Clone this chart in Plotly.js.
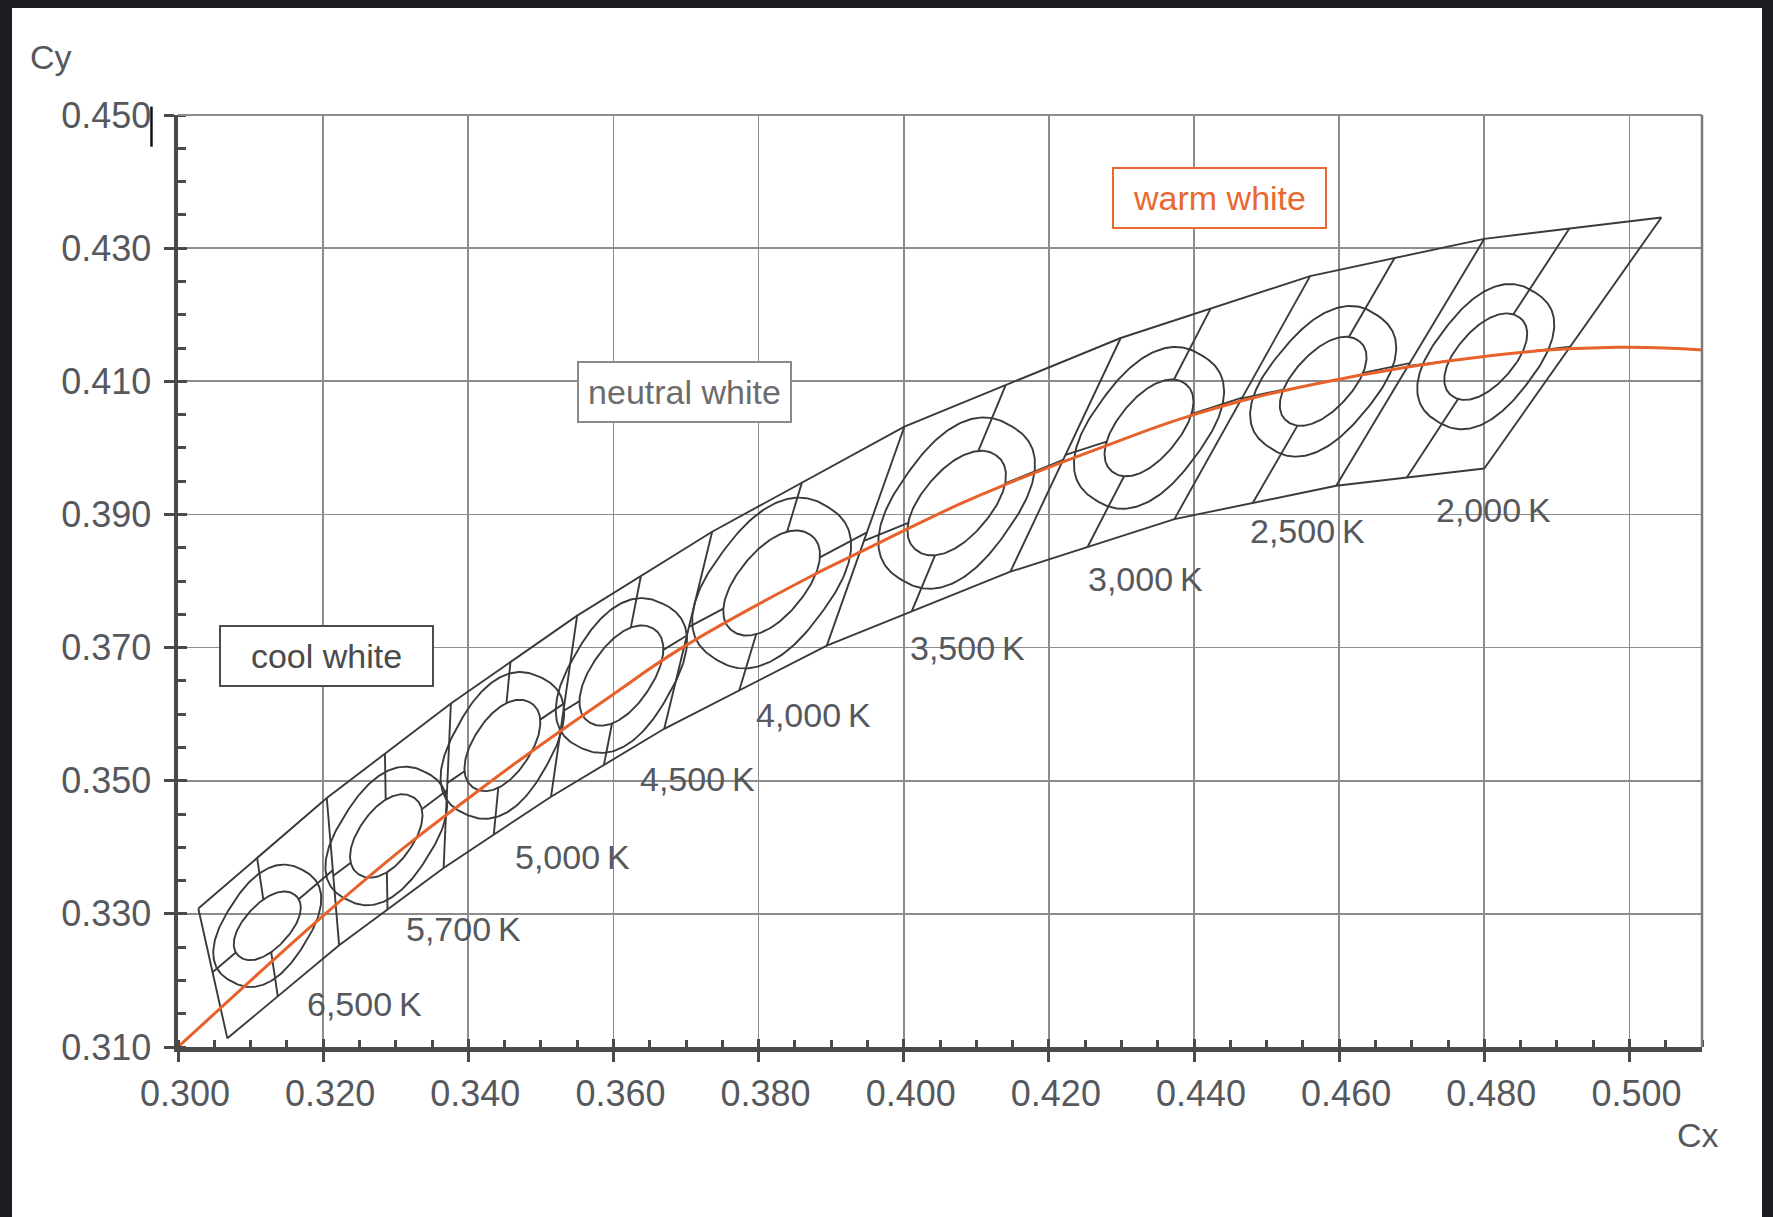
<!DOCTYPE html>
<html>
<head>
<meta charset="utf-8">
<script src="https://cdn.plot.ly/plotly-3.0.1.min.js"></script>
<style>
html,body{margin:0;padding:0;background:#1d1e22;overflow:hidden;width:1773px;height:1217px;}
#sheet{position:absolute;left:12px;top:8px;width:1750px;height:1209px;background:#ffffff;}
#chart{position:absolute;left:0;top:0;width:1773px;height:1217px;}
</style>
</head>
<body>
<div id="sheet"></div>
<div id="chart"></div>
<script>
// ---------- data (CIE 1931 x, y) ----------
// Planckian locus
const locusX = [0.3000, 0.3137, 0.3201, 0.3311, 0.3403, 0.3472, 0.3596, 0.3692, 0.3865, 0.3941, 0.4076, 0.4138, 0.4271, 0.4400, 0.4567, 0.4805, 0.4983, 0.5100];
const locusY = [0.3100, 0.3236, 0.3298, 0.3399, 0.3476, 0.3532, 0.3627, 0.3698, 0.3803, 0.3844, 0.3915, 0.3944, 0.4000, 0.4050, 0.4096, 0.4138, 0.4151, 0.4147];

// quadrangle vertices on the upper and lower boundary (shared by neighbouring bins)
const topX = [0.3028, 0.3205, 0.3376, 0.3550, 0.3736, 0.4001, 0.4299, 0.4560, 0.4800, 0.5044];
const topY = [0.3308, 0.3474, 0.3616, 0.3748, 0.3874, 0.4032, 0.4165, 0.4258, 0.4314, 0.4346];
const botX = [0.3068, 0.3222, 0.3366, 0.3514, 0.3670, 0.3894, 0.4147, 0.4373, 0.4596, 0.4800];
const botY = [0.3113, 0.3253, 0.3369, 0.3476, 0.3578, 0.3703, 0.3814, 0.3893, 0.3943, 0.3969];

// bins: nominal CCT labels, ellipse centres and ellipse axes
const binLabels = ['6,500\u2009K', '5,700\u2009K', '5,000\u2009K', '4,500\u2009K', '4,000\u2009K', '3,500\u2009K', '3,000\u2009K', '2,500\u2009K', '2,000\u2009K'];
const binCx = [0.3123, 0.3287, 0.3447, 0.3611, 0.3818, 0.4073, 0.4338, 0.4578, 0.4802];
const binCy = [0.3282, 0.3417, 0.3553, 0.3658, 0.3797, 0.3917, 0.4030, 0.4100, 0.4137];
const innerA = [0.0060, 0.0069, 0.0075, 0.0083, 0.0090, 0.0090, 0.0083, 0.0078, 0.0075];
const innerB = [0.0032, 0.0038, 0.0040, 0.0043, 0.0047, 0.0048, 0.0043, 0.0041, 0.0040];
const innerDeg = [51, 58, 60, 59, 54, 53, 54, 51, 52];
const outerA = [0.0097, 0.0110, 0.0115, 0.0122, 0.0138, 0.0138, 0.0131, 0.0124, 0.0118];
const outerB = [0.0058, 0.0065, 0.0068, 0.0071, 0.0082, 0.0081, 0.0077, 0.0073, 0.0070];
const outerDeg = [60, 60, 63, 62, 56, 57, 56, 53, 55];
const labelX = [0.3257, 0.3394, 0.3544, 0.3716, 0.3875, 0.4088, 0.4333, 0.4557, 0.4813];
const labelY = [0.3165, 0.3277, 0.3386, 0.3503, 0.3598, 0.3700, 0.3803, 0.3875, 0.3907];

// light colour zones
const zoneNames = ['cool white', 'neutral white', 'warm white'];
const zoneX = [0.3205, 0.3698, 0.4435];
const zoneY = [0.3687, 0.4084, 0.4375];

// axis ticks
const xTickVals = [0.30, 0.32, 0.34, 0.36, 0.38, 0.40, 0.42, 0.44, 0.46, 0.48, 0.50];
const xTickText = ['0.300', '0.320', '0.340', '0.360', '0.380', '0.400', '0.420', '0.440', '0.460', '0.480', '0.500'];
const yTickVals = [0.31, 0.33, 0.35, 0.37, 0.39, 0.41, 0.43, 0.45];
const yTickText = ['0.310', '0.330', '0.350', '0.370', '0.390', '0.410', '0.430', '0.450'];

// ---------- styles ----------
const FONT = 'Liberation Sans, Arial, Helvetica, sans-serif';
const INK = '#3a3a3a';
const TXT = '#55585d';
const ORANGE = '#e8612b';
const SUPER_IN = 2.15, SUPER_OUT = 2.45;

// ---------- geometry helpers ----------
function shapeFn(cx, cy, a, b, deg, n) {
  const th = deg * Math.PI / 180, c = Math.cos(th), s = Math.sin(th);
  return {
    outline: function (N) {
      const xs = [], ys = [];
      for (let k = 0; k <= N; k++) {
        const t = 2 * Math.PI * k / N;
        const ct = Math.cos(t), st = Math.sin(t);
        const u = a * Math.sign(ct) * Math.pow(Math.abs(ct), 2 / n);
        const v = b * Math.sign(st) * Math.pow(Math.abs(st), 2 / n);
        xs.push(cx + u * c - v * s);
        ys.push(cy + u * s + v * c);
      }
      return [xs, ys];
    },
    level: function (x, y) {
      const dx = x - cx, dy = y - cy;
      const u = dx * c + dy * s, v = -dx * s + dy * c;
      return Math.pow(Math.abs(u / a), n) + Math.pow(Math.abs(v / b), n);
    }
  };
}
function intersect(C, d, A, B) {
  const ex = B[0] - A[0], ey = B[1] - A[1];
  const den = d[0] * ey - d[1] * ex;
  const t = ((A[0] - C[0]) * ey - (A[1] - C[1]) * ex) / den;
  return [C[0] + t * d[0], C[1] + t * d[1]];
}

// ---------- build traces ----------
const frameX = [], frameY = [];
topX.forEach((v, i) => { frameX.push(v); frameY.push(topY[i]); });
frameX.push(null); frameY.push(null);
botX.forEach((v, i) => { frameX.push(v); frameY.push(botY[i]); });
frameX.push(null); frameY.push(null);
topX.forEach((v, i) => { frameX.push(v, botX[i], null); frameY.push(topY[i], botY[i], null); });

const inX = [], inY = [], outX = [], outY = [], cenX = [], cenY = [];
binCx.forEach((cx, i) => {
  const cy = binCy[i];
  const inner = shapeFn(cx, cy, innerA[i], innerB[i], innerDeg[i], SUPER_IN);
  const outer = shapeFn(cx, cy, outerA[i], outerB[i], outerDeg[i], SUPER_OUT);
  let p = inner.outline(200); inX.push(...p[0], null); inY.push(...p[1], null);
  p = outer.outline(200); outX.push(...p[0], null); outY.push(...p[1], null);

  const TL = [topX[i], topY[i]], TR = [topX[i + 1], topY[i + 1]];
  const BL = [botX[i], botY[i]], BR = [botX[i + 1], botY[i + 1]];
  const C = [cx, cy];
  const dv = [((TL[0] - BL[0]) + (TR[0] - BR[0])) / 2, ((TL[1] - BL[1]) + (TR[1] - BR[1])) / 2];
  const dh = [((TR[0] - TL[0]) + (BR[0] - BL[0])) / 2, ((TR[1] - TL[1]) + (BR[1] - BL[1])) / 2];
  const ends = [
    intersect(C, dv, TL, TR),
    intersect(C, [-dv[0], -dv[1]], BL, BR),
    intersect(C, [-dh[0], -dh[1]], BL, TL),
    intersect(C, dh, BR, TR)
  ];
  ends.forEach(P => {
    let lo = 0, hi = 1;
    for (let k = 0; k < 40; k++) {
      const m = (lo + hi) / 2;
      const x = C[0] + m * (P[0] - C[0]), y = C[1] + m * (P[1] - C[1]);
      if (inner.level(x, y) < 1) lo = m; else hi = m;
    }
    cenX.push(C[0] + hi * (P[0] - C[0]), P[0], null);
    cenY.push(C[1] + hi * (P[1] - C[1]), P[1], null);
  });
});

const lineStyle = { color: INK, width: 1.9 };
const traces = [
  { x: frameX, y: frameY, mode: 'lines', line: lineStyle, hoverinfo: 'skip', showlegend: false },
  { x: outX, y: outY, mode: 'lines', line: lineStyle, hoverinfo: 'skip', showlegend: false },
  { x: inX, y: inY, mode: 'lines', line: lineStyle, hoverinfo: 'skip', showlegend: false },
  { x: cenX, y: cenY, mode: 'lines', line: lineStyle, hoverinfo: 'skip', showlegend: false },
  { x: locusX, y: locusY, mode: 'lines', line: { color: ORANGE, width: 3, shape: 'spline', smoothing: 1.2 }, hoverinfo: 'skip', showlegend: false },
  { x: [null], y: [null], xaxis: 'x2', yaxis: 'y2', mode: 'markers', hoverinfo: 'skip', showlegend: false }
];

// ---------- annotations ----------
const annotations = [];
binLabels.forEach((t, i) => annotations.push({
  x: labelX[i], y: labelY[i], xref: 'x', yref: 'y', text: t, showarrow: false,
  xanchor: 'center', yanchor: 'middle', font: { family: FONT, size: 34, color: TXT }
}));
const zoneText = ['#4b4b4b', '#6c6c6c', '#e8692f'];
const zoneBorder = ['#4b4b4b', '#8a8a8a', '#e8692f'];
zoneNames.forEach((t, i) => annotations.push({
  x: zoneX[i], y: zoneY[i], xref: 'x', yref: 'y', text: t, showarrow: false,
  xanchor: 'center', yanchor: 'middle', width: 207, height: 54, align: 'center', valign: 'middle',
  bgcolor: '#ffffff', bordercolor: zoneBorder[i], borderwidth: 2, borderpad: 2,
  font: { family: FONT, size: 34, color: zoneText[i] }
}));
annotations.push({ x: -0.0833, y: 1.062, xref: 'paper', yref: 'paper', text: 'Cy', showarrow: false,
  xanchor: 'center', yanchor: 'middle', font: { family: FONT, size: 34, color: TXT } });
annotations.push({ x: 0.9974, y: -0.0944, xref: 'paper', yref: 'paper', text: 'Cx', showarrow: false,
  xanchor: 'center', yanchor: 'middle', font: { family: FONT, size: 34, color: TXT } });

const XR = [0.300, 0.510], YR = [0.310, 0.450];
const tickFont = { family: FONT, size: 36, color: TXT };
const layout = {
  width: 1773, height: 1217,
  margin: { l: 178, r: 71, t: 115, b: 170, pad: 0 },
  paper_bgcolor: 'rgba(0,0,0,0)', plot_bgcolor: '#ffffff',
  showlegend: false,
  xaxis: {
    range: XR, tickmode: 'array', tickvals: xTickVals, ticktext: xTickText,
    ticks: 'outside', ticklen: 10, tickwidth: 3, tickcolor: '#4a4a4a',
    ticklabelstandoff: 1, ticklabelshift: 7,
    showgrid: true, gridcolor: '#8c8c8c', gridwidth: 1.6, zeroline: false,
    showline: true, linecolor: '#4a4a4a', linewidth: 4.5,
    minor: { tickmode: 'linear', tick0: 0.3, dtick: 0.005, ticks: 'inside', ticklen: 7, tickwidth: 3, tickcolor: '#4a4a4a', showgrid: false },
    tickfont: tickFont, fixedrange: true
  },
  yaxis: {
    range: YR, tickmode: 'array', tickvals: yTickVals, ticktext: yTickText,
    ticks: 'outside', ticklen: 10, tickwidth: 3, tickcolor: '#4a4a4a',
    ticklabelstandoff: 5,
    showgrid: true, gridcolor: '#8c8c8c', gridwidth: 1.6, zeroline: false,
    showline: true, linecolor: '#4a4a4a', linewidth: 4.5,
    minor: { tickmode: 'linear', tick0: 0.31, dtick: 0.005, ticks: 'inside', ticklen: 8, tickwidth: 3, tickcolor: '#4a4a4a', showgrid: false },
    tickfont: tickFont, fixedrange: true
  },
  xaxis2: {
    overlaying: 'x', anchor: 'y2', side: 'bottom', range: XR, tickmode: 'array', tickvals: xTickVals,
    ticks: 'inside', ticklen: 8, tickwidth: 3, tickcolor: '#4a4a4a',
    showticklabels: false, showgrid: false, zeroline: false, showline: false, fixedrange: true
  },
  yaxis2: {
    overlaying: 'y', anchor: 'x2', side: 'left', range: YR, tickmode: 'array', tickvals: yTickVals,
    ticks: 'inside', ticklen: 9, tickwidth: 3, tickcolor: '#4a4a4a',
    showticklabels: false, showgrid: false, zeroline: false, showline: false, fixedrange: true
  },
  shapes: [
    { type: 'line', xref: 'paper', yref: 'paper', x0: 1, x1: 1, y0: 0, y1: 1, line: { color: '#7a7a7a', width: 2.5 } },
    { type: 'line', xref: 'paper', yref: 'paper', x0: 0, x1: 1, y0: 1, y1: 1, line: { color: '#8c8c8c', width: 1.8 } },
    { type: 'line', xref: 'paper', yref: 'paper', x0: -0.0174, x1: -0.0174, y0: 0.966, y1: 1.009, line: { color: '#111111', width: 2.5 } }
  ],
  annotations: annotations
};

Plotly.newPlot('chart', traces, layout, { displayModeBar: false, staticPlot: true });
</script>
</body>
</html>
